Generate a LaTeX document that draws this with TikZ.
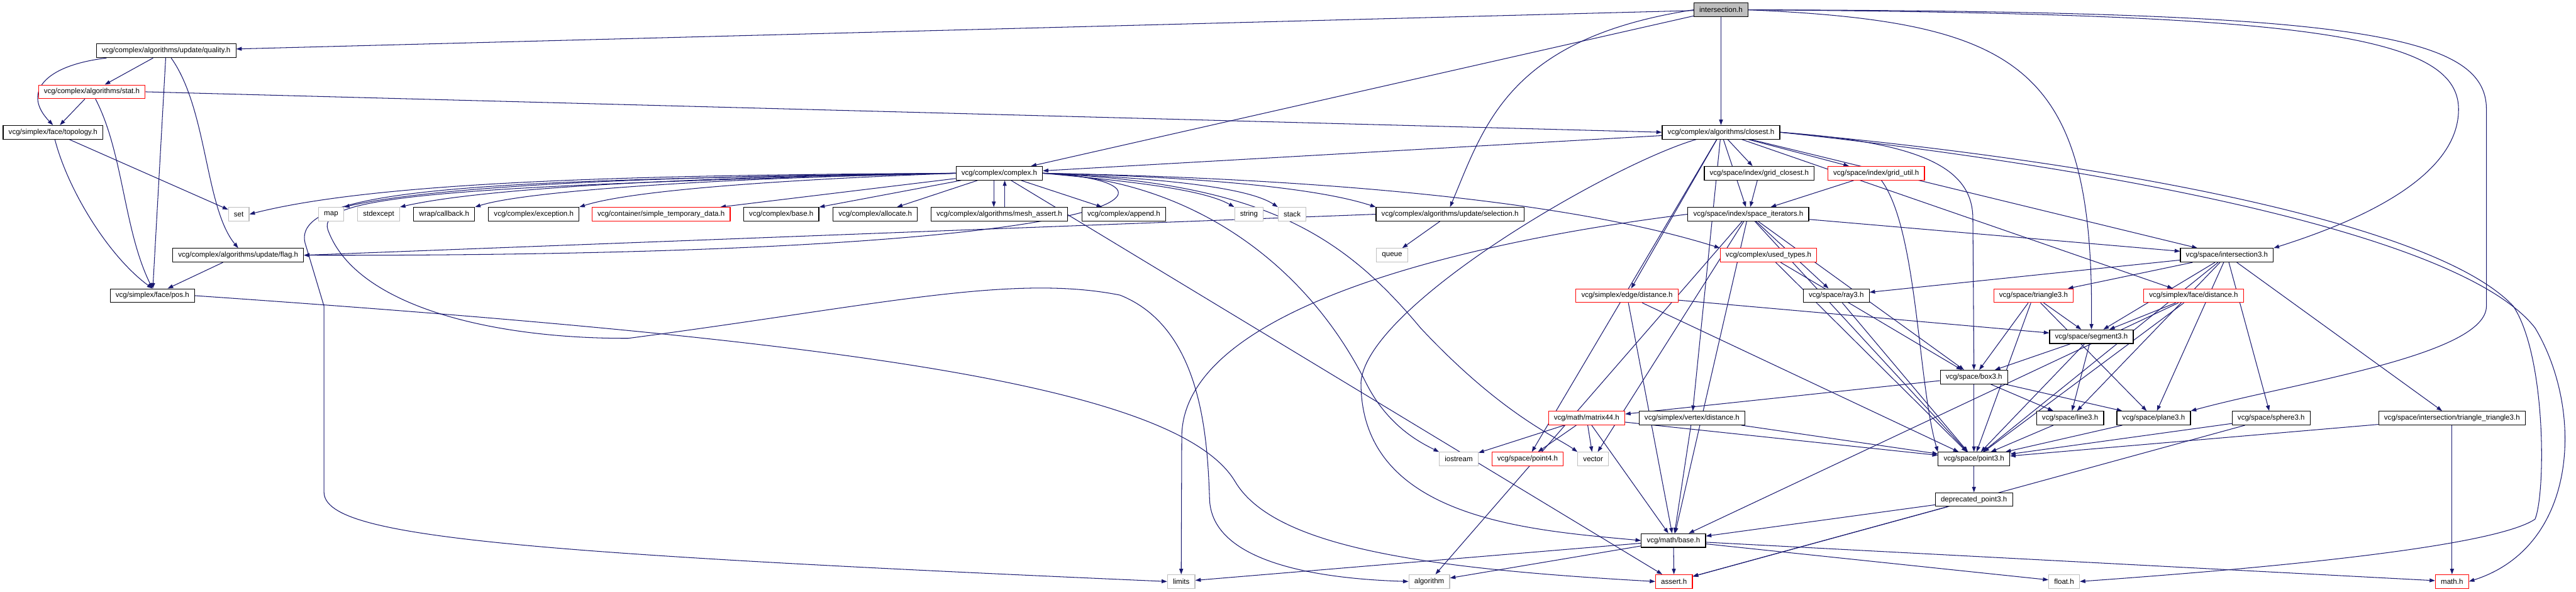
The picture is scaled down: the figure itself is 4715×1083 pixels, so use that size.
\documentclass[tikz,border=0pt]{standalone}
\usepackage{fontspec}
\newfontfamily\doxfont{Liberation Sans}
\usetikzlibrary{arrows.meta,backgrounds}
\definecolor{depblue}{RGB}{25,25,112}
\definecolor{sysgray}{RGB}{191,191,191}

\begin{document}
\begin{tikzpicture}[
  x=1pt, y=-1pt,
  hdr/.style={draw=black, line width=1.3pt, fill=white, inner xsep=10pt, inner ysep=0pt, minimum height=25pt, font=\doxfont\fontsize{13.3pt}{16pt}\selectfont},
  trunc/.style={hdr, draw=red},
  sys/.style={hdr, draw=sysgray},
  root/.style={hdr, fill=sysgray},
  dep/.style={draw=depblue, line width=1.2pt, -{Triangle[length=10pt, width=7pt]}}
]
\useasboundingbox (0,0) rectangle (4715,1083);

% rank 0 - 4
\node[root] (int) at (3150,18) {intersection.h};
\node[hdr] (qual) at (304,93) {vcg/complex/algorithms/update/quality.h};
\node[trunc] (stat) at (168,168) {vcg/complex/algorithms/stat.h};
\node[hdr] (topo) at (97,242) {vcg/simplex/face/topology.h};
\node[hdr] (clos) at (3150,242) {vcg/complex/algorithms/closest.h};
\node[hdr] (cplx) at (1829,317) {vcg/complex/complex.h};
\node[hdr] (gclos) at (3220,317) {vcg/space/index/grid\_closest.h};
\node[trunc] (gutil) at (3434,317) {vcg/space/index/grid\_util.h};

% rank 5
\node[sys] (set) at (437,392) {set};
\node[sys] (map) at (606,392) {map};
\node[sys] (stdexc) at (693,392) {stdexcept};
\node[hdr] (callb) at (813,392) {wrap/callback.h};
\node[hdr] (exc) at (977,392) {vcg/complex/exception.h};
\node[trunc] (tmpd) at (1210,392) {vcg/container/simple\_temporary\_data.h};
\node[hdr] (cbase) at (1430,392) {vcg/complex/base.h};
\node[hdr] (alloc) at (1602,392) {vcg/complex/allocate.h};
\node[hdr] (massert) at (1829,392) {vcg/complex/algorithms/mesh\_assert.h};
\node[hdr] (append) at (2057,392) {vcg/complex/append.h};
\node[sys] (string) at (2286,392) {string};
\node[sys] (stack) at (2365,392) {stack};
\node[hdr] (sel) at (2654,392) {vcg/complex/algorithms/update/selection.h};
\node[hdr] (spit) at (3200,392) {vcg/space/index/space\_iterators.h};

% rank 6 - 7
\node[hdr] (flag) at (436,467) {vcg/complex/algorithms/update/flag.h};
\node[sys] (queue) at (2548,467) {queue};
\node[trunc] (used) at (3237,467) {vcg/complex/used\_types.h};
\node[hdr] (isect3) at (4076,467) {vcg/space/intersection3.h};
\node[hdr] (pos) at (279,541) {vcg/simplex/face/pos.h};
\node[trunc] (edist) at (2978,541) {vcg/simplex/edge/distance.h};
\node[hdr] (ray) at (3361,541) {vcg/space/ray3.h};
\node[trunc] (tri) at (3722,541) {vcg/space/triangle3.h};
\node[trunc] (fdist) at (4015,541) {vcg/simplex/face/distance.h};

% rank 8 - 10
\node[hdr] (seg) at (3828,616) {vcg/space/segment3.h};
\node[hdr] (box) at (3613,690) {vcg/space/box3.h};
\node[trunc] (mat44) at (2904,765) {vcg/math/matrix44.h};
\node[hdr] (vdist) at (3097,765) {vcg/simplex/vertex/distance.h};
\node[hdr] (line) at (3789,765) {vcg/space/line3.h};
\node[hdr] (plane) at (3942,765) {vcg/space/plane3.h};
\node[hdr] (sphere) at (4157,765) {vcg/space/sphere3.h};
\node[hdr] (tritri) at (4488,765) {vcg/space/intersection/triangle\_triangle3.h};

% rank 11 - 14
\node[sys] (iostr) at (2670,840) {iostream};
\node[trunc] (pt4) at (2796,840) {vcg/space/point4.h};
\node[sys] (vector) at (2916,840) {vector};
\node[hdr] (pt3) at (3613,840) {vcg/space/point3.h};
\node[hdr] (dpt3) at (3613,914) {deprecated\_point3.h};
\node[hdr] (mbase) at (3063,989) {vcg/math/base.h};
\node[sys] (limits) at (2162,1064) {limits};
\node[sys] (algo) at (2616,1064) {algorithm};
\node[trunc] (assert) at (3064,1064) {assert.h};
\node[sys] (float) at (3778,1064) {float.h};
\node[trunc] (math) at (4488,1064) {math.h};

\begin{scope}[on background layer]
% intersection.h
\draw[dep] (int) -- (qual); \draw[dep] (int) -- (cplx); \draw[dep] (int) -- (clos);
\draw[dep] (int.west) .. controls (2760,70) and (2717,230) .. (sel.north);
\draw[dep] (int.east) .. controls (3700,40) and (3833,120) .. (seg.north);
\draw[dep] (int.east) .. controls (4200,25) and (4500,60) .. (4500,200) .. controls (4500,330) and (4300,410) .. (isect3.north east);
\draw[dep] (int.east) .. controls (4300,20) and (4551,60) .. (4551,200) -- (4551,560) .. controls (4551,650) and (4200,700) .. (plane.north east);

% left group
\draw[dep] (qual) -- (stat); \draw[dep] (qual) -- (pos);
\draw[dep] (qual) .. controls (80,120) and (40,170) .. (topo.north);
\draw[dep] (qual) .. controls (380,200) and (375,380) .. (flag.north);
\draw[dep] (stat) -- (topo); \draw[dep] (stat.east) -- (clos.west);
\draw[dep] (stat) .. controls (226,280) and (226,420) .. (pos.north);
\draw[dep] (topo) -- (set);
\draw[dep] (topo) .. controls (125,350) and (200,470) .. (pos.north);
\draw[dep] (flag) -- (pos);
\draw[dep] (pos.east) .. controls (1500,620) and (2150,700) .. (2260,880) .. controls (2330,1000) and (2600,1040) .. (assert.west);

% complex.h
\draw[dep] (cplx.west) .. controls (1200,320) and (700,330) .. (set.east);
\draw[dep] (cplx.west) .. controls (1200,322) and (800,340) .. (map.north east);
\draw[dep] (cplx.west) .. controls (1250,324) and (880,345) .. (stdexc.north east);
\draw[dep] (cplx.west) .. controls (1300,326) and (960,350) .. (callb.north east);
\draw[dep] (cplx.west) .. controls (1400,330) and (1150,350) .. (exc.north east);
\draw[dep] (cplx) -- (tmpd); \draw[dep] (cplx) -- (cbase); \draw[dep] (cplx) -- (alloc);
\draw[dep] ([xshift=-10pt]cplx.south) -- ([xshift=-10pt]massert.north);
\draw[dep] ([xshift=10pt]massert.north) -- ([xshift=10pt]cplx.south);
\draw[dep] (cplx) -- (append);
\draw[dep] (cplx.east) .. controls (2050,330) and (2200,345) .. (string.north west);
\draw[dep] (cplx.east) .. controls (2100,325) and (2280,340) .. (stack.north west);
\draw[dep] (cplx.east) .. controls (2150,322) and (2400,340) .. (sel.north west);
\draw[dep] (cplx.east) .. controls (2350,325) and (2850,360) .. (used.north west);
\draw[dep] (cplx.east) .. controls (2200,330) and (2400,500) .. (2500,700) .. controls (2540,780) and (2600,810) .. (iostr.north west);
\draw[dep] (cplx.east) .. controls (2300,335) and (2450,420) .. (2600,600) .. controls (2750,760) and (2850,800) .. (vector.north west);
\draw[dep] (cplx) -- (assert);
\draw[dep] (cplx.east) .. controls (2200,330) and (2150,470) .. (flag.east);
\draw[dep] (cplx.west) .. controls (900,330) and (520,340) .. (560,450) -- (593,560) -- (593,900) .. controls (593,980) and (900,1010) .. (limits.west);
\draw[dep] (cplx.west) .. controls (800,340) and (580,360) .. (600,420) .. controls (650,560) and (900,620) .. (1150,619) .. controls (1600,560) and (1850,500) .. (2050,540) .. controls (2200,600) and (2210,800) .. (2214,915) .. controls (2220,1040) and (2450,1060) .. (algo.west);
\draw[dep] (sel) -- (queue); \draw[dep] (sel.west) -- (flag.east);

% closest.h
\draw[dep] (clos) -- (cplx); \draw[dep] (clos) -- (gclos); \draw[dep] (clos) -- (gutil);
\draw[dep] (clos) -- (spit); \draw[dep] (clos) -- (edist); \draw[dep] (clos) -- (vdist);
\draw[dep] (clos) -- (pt4); \draw[dep] (clos) -- (isect3); \draw[dep] (clos) -- (fdist);
\draw[dep] (clos.east) .. controls (3500,260) and (3611,300) .. (3611,400) -- (box.north);
\draw[dep] (clos) .. controls (2950,300) and (2500,560) .. (2491,700) .. controls (2491,950) and (2800,970) .. (mbase.west);
\draw[dep] (clos.east) .. controls (3800,300) and (4500,420) .. (4640,600) .. controls (4730,750) and (4720,1000) .. (math.east);
\draw[dep] (clos.east) .. controls (3800,290) and (4450,400) .. (4600,560) .. controls (4660,650) and (4660,900) .. (4640,950) .. controls (4550,1010) and (4000,1050) .. (float.east);
\draw[dep] (gclos) -- (spit); \draw[dep] (gutil) -- (spit);
\draw[dep] (gutil) .. controls (3510,420) and (3510,700) .. (pt3.north west);

% space iterators, used types
\draw[dep] (spit) -- (isect3); \draw[dep] (spit) -- (ray); \draw[dep] (spit) -- (box);
\draw[dep] (spit) -- (pt3); \draw[dep] (spit) -- (mbase); \draw[dep] (spit) -- (vector);
\draw[dep] (spit.west) .. controls (2700,440) and (2163,560) .. (2163,800) -- (limits.north);
\draw[dep] (spit) -- (algo);
\draw[dep] (used) -- (box); \draw[dep] (used) -- (pt3);

% intersection3.h
\draw[dep] (isect3) -- (ray); \draw[dep] (isect3) -- (tri); \draw[dep] (isect3) -- (seg);
\draw[dep] (isect3) -- (line); \draw[dep] (isect3) -- (plane); \draw[dep] (isect3) -- (sphere);
\draw[dep] (isect3) -- (tritri); \draw[dep] (isect3) -- (pt3);

% geometry
\draw[dep] (edist) -- (mbase); \draw[dep] (edist) -- (pt3); \draw[dep] (edist) -- (seg);
\draw[dep] (ray) -- (pt3);
\draw[dep] (tri) -- (box); \draw[dep] (tri) -- (pt3); \draw[dep] (tri) -- (seg); \draw[dep] (tri) -- (plane);
\draw[dep] (fdist) -- (seg); \draw[dep] (fdist) -- (pt3); \draw[dep] (fdist) -- (mbase);
\draw[dep] (seg) -- (box); \draw[dep] (seg) -- (pt3); \draw[dep] (seg) -- (line);
\draw[dep] (box) -- (pt3); \draw[dep] (box) -- (line); \draw[dep] (box) -- (plane); \draw[dep] (box) -- (mat44);
\draw[dep] (line) -- (pt3); \draw[dep] (plane) -- (pt3);
\draw[dep] (sphere) -- (pt3); \draw[dep] (sphere) -- (assert);
\draw[dep] (tritri) -- (pt3); \draw[dep] (tritri) -- (math);
\draw[dep] (mat44) -- (iostr); \draw[dep] (mat44) -- (pt4); \draw[dep] (mat44) -- (vector);
\draw[dep] (mat44) -- (mbase); \draw[dep] (mat44) -- (pt3);
\draw[dep] (vdist) -- (mbase); \draw[dep] (vdist) -- (pt3);
\draw[dep] (pt3) -- (dpt3);
\draw[dep] (dpt3) -- (mbase); \draw[dep] (dpt3) -- (assert);

% math/base.h
\draw[dep] (mbase) -- (float); \draw[dep] (mbase) -- (math); \draw[dep] (mbase) -- (assert);
\draw[dep] (mbase) -- (limits); \draw[dep] (mbase) -- (algo);
\end{scope}
\end{tikzpicture}
\end{document}
